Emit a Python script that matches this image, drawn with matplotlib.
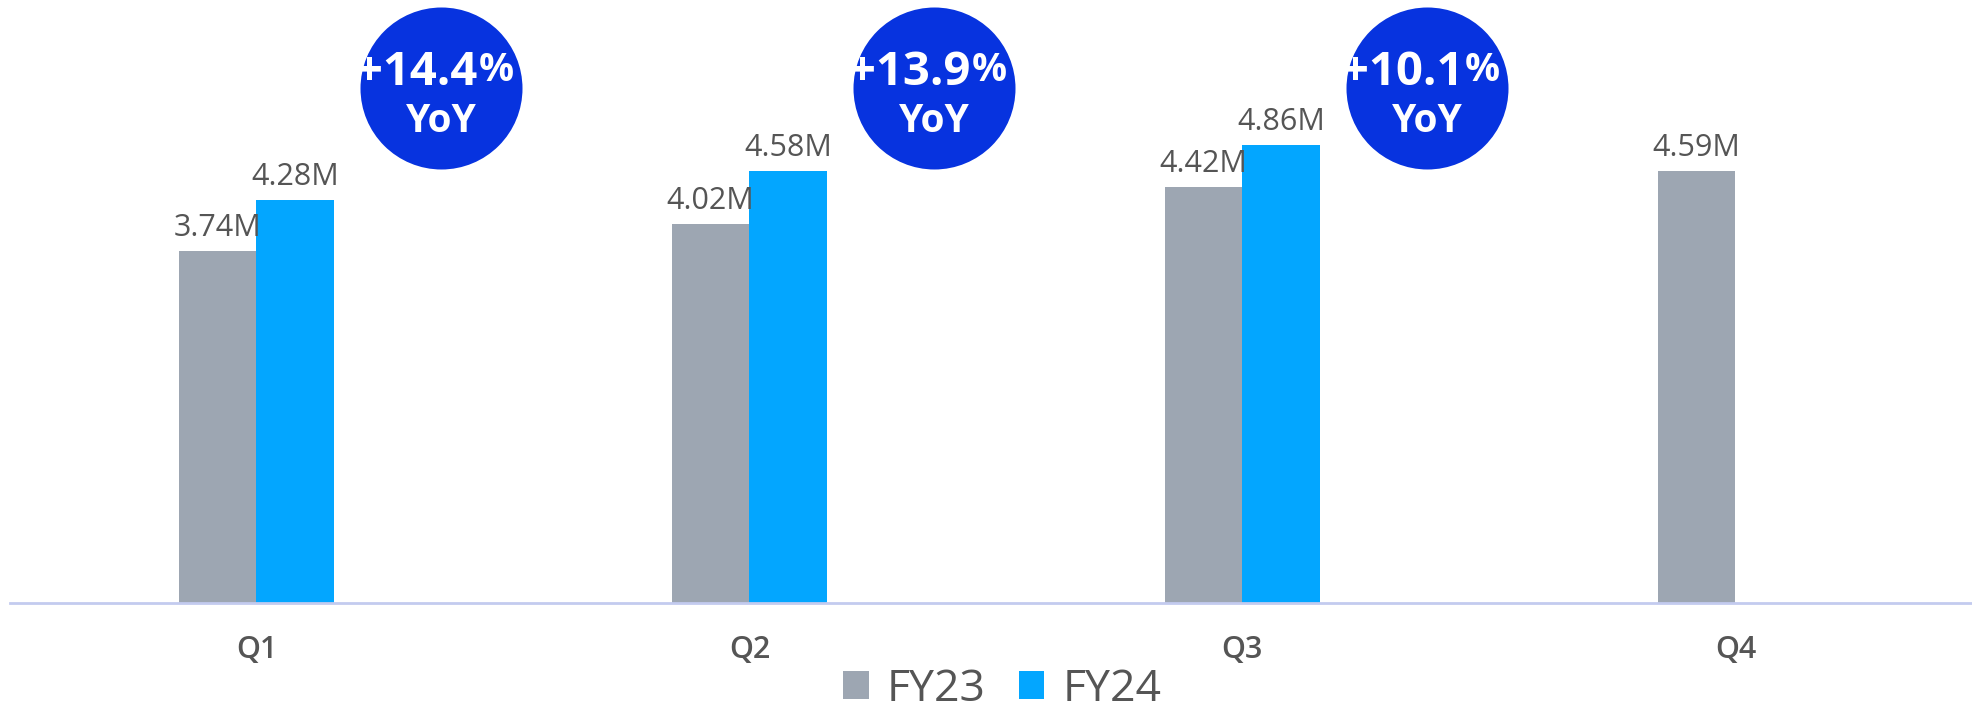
import numpy as np
import matplotlib.pyplot as plt

plt.rcParams["font.family"] = ["Open Sans", "DejaVu Sans"]

quarters = ["Q1", "Q2", "Q3", "Q4"]
fy23 = [3.74, 4.02, 4.42, 4.59]
fy24 = [4.28, 4.58, 4.86]
yoy = ["+14.4", "+13.9", "+10.1"]

gray = "#9DA6B2"
blue = "#03A6FF"
badge = "#0733DF"
txt = "#555555"
px = 0.72  # points per pixel at dpi 100

fig = plt.figure(figsize=(19.72, 7.11), dpi=100)
ax = fig.add_axes([10 / 1972, 1 - 603 / 711, 1 - 10 / 1972, 603 / 711])

x = np.arange(len(quarters))
w = 0.157
b1 = ax.bar(x - w / 2, fy23, w, color=gray)
b2 = ax.bar(x[:len(fy24)] + w / 2, fy24, w, color=blue)

for bars, vals in [(b1, fy23), (b2, fy24)]:
    for r, v in zip(bars, vals):
        ax.annotate(f"{v:.2f}M", (r.get_x() + r.get_width() / 2, v),
                    xytext=(0, 8 * px), textcoords="offset points",
                    ha="center", va="bottom", fontsize=22, color=txt)

# YoY badges
cy = 5.47
for i, s in enumerate(yoy):
    cx = x[i] + 0.375
    ax.scatter([cx], [cy], s=(162 * px) ** 2, color=badge, zorder=3,
               linewidths=0)
    t = ax.annotate(s, (cx, cy), xytext=(36 * px, 3 * px),
                    textcoords="offset points", ha="right", va="baseline",
                    fontsize=34, fontweight="bold", color="white", zorder=4)
    ax.annotate("%", xy=(1, 0), xycoords=t, xytext=(1 * px, 6 * px),
                textcoords="offset points", ha="left", va="bottom",
                fontsize=28, fontweight="bold", color="white", zorder=4)
    ax.annotate("YoY", (cx, cy), xytext=(0, -44 * px),
                textcoords="offset points", ha="center", va="baseline",
                fontsize=28, fontweight="bold", color="white", zorder=4)

ax.set_xlim(-0.5, 3.48)
ax.set_ylim(0, 6.4)
ax.set_xticks(x, quarters)
ax.tick_params(axis="x", length=0, pad=32 * px, labelsize=22, labelcolor=txt)
for lb in ax.get_xticklabels():
    lb.set_fontweight("semibold")
ax.set_yticks([])
for sp in ["top", "right", "left"]:
    ax.spines[sp].set_visible(False)
ax.spines["bottom"].set_color("#C3CBEF")
ax.spines["bottom"].set_linewidth(2)

fig.legend([b1, b2], ["FY23", "FY24"], loc="center",
           bbox_to_anchor=(1002 / 1972, 0.03), ncol=2, frameon=False,
           labelcolor=txt, handlelength=0.58, handleheight=0.58,
           handletextpad=0.4, columnspacing=0.75, borderpad=0,
           prop={"size": 32})

fig.savefig("out.png", dpi=100)
